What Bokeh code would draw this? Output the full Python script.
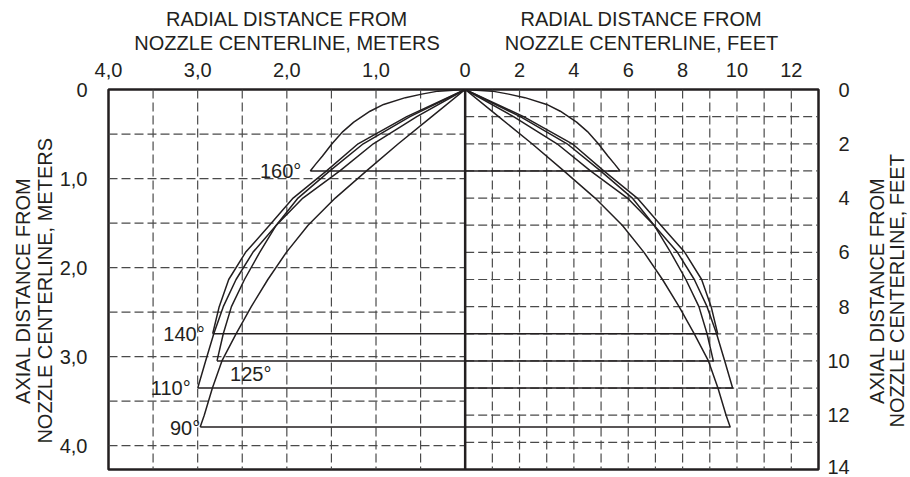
import numpy as np
from bokeh.plotting import figure
from bokeh.layouts import column, row
from bokeh.models import Range1d, LinearAxis, FixedTicker, Label
from bokeh.core.properties import value
from bokeh.embed import file_html
from bokeh.resources import INLINE

FT_PER_M = 3.2808

# ---------------- tick labels ----------------
top_m_ticks = [-4.0, -3.0, -2.0, -1.0]
top_m_labels = ["4,0", "3,0", "2,0", "1,0"]
top_ft_ticks = [0, 2, 4, 6, 8, 10, 12]
top_ft_labels = ["0", "2", "4", "6", "8", "10", "12"]
left_m_ticks = [0.0, 1.0, 2.0, 3.0, 4.0]
left_m_labels = ["0", "1,0", "2,0", "3,0", "4,0"]
right_ft_ticks = [0, 2, 4, 6, 8, 10, 12, 14]
right_ft_labels = ["\u20070", "\u20072", "\u20074", "\u20076", "\u20078", "10", "12", "14"]

# axis titles
top_left_title = ["RADIAL DISTANCE FROM", "NOZZLE CENTERLINE, METERS"]
top_right_title = ["RADIAL DISTANCE FROM", "NOZZLE CENTERLINE, FEET"]
left_title = ["AXIAL DISTANCE FROM", "NOZZLE CENTERLINE, METERS"]
right_title = ["AXIAL DISTANCE FROM", "NOZZLE CENTERLINE, FEET"]

# ---------------- spray profiles (feet): radial distance r, axial distance a ----------------
angle_names = ["160°", "140°", "125°", "110°", "90°"]
r_160 = [0, 1.0, 1.6, 2.2, 3.0, 3.5, 4.1, 4.5, 4.9, 5.25, 5.5, 5.7]
a_160 = [0, 0.06, 0.17, 0.3, 0.55, 0.8, 1.2, 1.55, 2.0, 2.45, 2.75, 3.0]
r_140 = [0, 2.15, 3.94, 5.1, 6.33, 7.2, 8.08, 8.70, 9.05, 9.29]
a_140 = [0, 1, 2, 3, 4, 5, 6, 7, 8, 9]
r_125 = [0, 1.78, 3.38, 4.61, 5.97, 6.95, 7.56, 8.12, 8.6, 8.9, 9.13]
a_125 = [0, 1, 2, 3, 4, 5, 6, 7, 8, 9, 10]
r_110 = [0, 2.03, 3.75, 4.98, 6.15, 6.95, 7.81, 8.43, 8.9, 9.25, 9.55, 9.84]
a_110 = [0, 1, 2, 3, 4, 5, 6, 7, 8, 9, 10, 11]
r_90 = [0, 1.23, 2.46, 3.63, 4.78, 5.78, 6.58, 7.26, 7.87, 8.43, 8.95, 9.3, 9.6, 9.75]
a_90 = [0, 1, 2, 3, 4, 5, 6, 7, 8, 9, 10, 11, 12, 12.43]

profiles = [(r_160, a_160), (r_140, a_140), (r_125, a_125), (r_110, a_110), (r_90, a_90)]
# label placement (style): (x offset px, y offset px, align)
label_style = [(-9, 0, "right"), (-8, 0, "right"), (13, -13, "left"), (-7, 0, "right"), (0, -1, "right")]

INK = "#231f20"
FONT = "Liberation Sans"
FS = "20px"

W, H = 910, 477
TOP_H = 56      # height of the title strip above
LEFT_W = 56     # width of the title strip on the left
RIGHT_W = 50    # width of the title strip on the right
MAIN_W = W - LEFT_W - RIGHT_W
MAIN_H = H - TOP_H

X_MIN, X_MAX = -4.0, 13 / FT_PER_M
Y_MAX = 14 / FT_PER_M


def strip(width, height, x0, y0):
    s = figure(width=width, height=height, min_border=0, title=None,
               x_range=Range1d(x0, x0 + width), y_range=Range1d(-(y0 + height), -y0),
               x_axis_location=None, y_axis_location=None,
               output_backend="svg", toolbar_location=None)
    s.grid.visible = False
    s.outline_line_color = None
    return s


def title_text(s, xs, ys, texts, angle):
    s.text(x=xs, y=[-y for y in ys], text=texts, angle=angle,
           text_font=value(FONT), text_font_size=value(FS), text_color=INK,
           text_align="center", text_baseline="middle")


# ---------------- main chart ----------------
FRAME_W, FRAME_H = 710, 380
p = figure(frame_width=FRAME_W, frame_height=FRAME_H,
           min_border_left=108 - LEFT_W, min_border_right=MAIN_W - (108 - LEFT_W) - FRAME_W,
           min_border_top=89 - TOP_H, min_border_bottom=MAIN_H - (89 - TOP_H) - FRAME_H,
           x_range=Range1d(X_MIN, X_MAX), y_range=Range1d(Y_MAX, 0),
           x_axis_location="above", y_axis_location="left",
           output_backend="svg", toolbar_location=None)
p.grid.visible = False
p.outline_line_color = INK
p.outline_line_width = 2.5

GRID_COL = "#4a4a4a"
GRID_DASH = "9 4"
gx_left = np.arange(-3.5, 0, 0.5)
gy_left = np.arange(0.5, 4.01, 0.5)
gx_right = np.arange(1, 13) / FT_PER_M
gy_right = np.arange(1, 14) / FT_PER_M
gkw = dict(line_color=GRID_COL, line_width=1.2, line_dash=GRID_DASH)
p.segment(x0=gx_left, y0=np.zeros_like(gx_left), x1=gx_left, y1=np.full_like(gx_left, Y_MAX), **gkw)
p.segment(x0=np.full_like(gy_left, X_MIN), y0=gy_left, x1=np.zeros_like(gy_left), y1=gy_left, **gkw)
p.segment(x0=gx_right, y0=np.zeros_like(gx_right), x1=gx_right, y1=np.full_like(gx_right, Y_MAX), **gkw)
p.segment(x0=np.zeros_like(gy_right), y0=gy_right, x1=np.full_like(gy_right, X_MAX), y1=gy_right, **gkw)

# centre line
p.segment(x0=[0], y0=[0], x1=[0], y1=[Y_MAX], line_color=INK, line_width=2.5)

# spray patterns
for name, (r, a), (dx, dy, al) in zip(angle_names, profiles, label_style):
    rm = np.array(r, dtype=float) / FT_PER_M
    am = np.array(a, dtype=float) / FT_PER_M
    xs = np.concatenate([-rm[::-1], rm[1:], [-rm[-1]]])
    ys = np.concatenate([am[::-1], am[1:], [am[-1]]])
    p.line(xs, ys, line_color=INK, line_width=1.5, line_join="round")
    p.add_layout(Label(x=-rm[-1], y=am[-1], text=name, x_offset=dx, y_offset=dy,
                       text_align=al, text_baseline="middle", text_font=FONT,
                       text_font_size=FS, text_color=INK))

# axes
top = p.xaxis[0]
top_ticks = top_m_ticks + [f / FT_PER_M for f in top_ft_ticks]
top.ticker = FixedTicker(ticks=top_ticks)
top.major_label_overrides = dict(zip(top_ticks, top_m_labels + top_ft_labels))

left = p.yaxis[0]
left.ticker = FixedTicker(ticks=left_m_ticks)
left.major_label_overrides = dict(zip(left_m_ticks, left_m_labels))

p.extra_y_ranges = {"ft": Range1d(14, 0)}
right = LinearAxis(y_range_name="ft", ticker=FixedTicker(ticks=right_ft_ticks))
right.major_label_overrides = dict(zip(right_ft_ticks, right_ft_labels))
p.add_layout(right, "right")

for ax, so in ((top, 7), (left, 15), (right, 3)):
    ax.axis_line_color = None
    ax.major_tick_line_color = None
    ax.minor_tick_line_color = None
    ax.major_label_standoff = so
    ax.major_label_text_font = FONT
    ax.major_label_text_font_size = FS
    ax.major_label_text_color = INK

# ---------------- title strips (page pixel coordinates) ----------------
top_strip = strip(W, TOP_H, 0, 0)
title_text(top_strip, [286.5, 286.5], [18.3, 42.5], top_left_title, 0)
title_text(top_strip, [641, 641], [18.3, 42.5], top_right_title, 0)

left_strip = strip(LEFT_W, MAIN_H, 0, TOP_H)
title_text(left_strip, [22.5, 44], [279, 279], left_title, np.pi / 2)

right_strip = strip(RIGHT_W, MAIN_H, W - RIGHT_W, TOP_H)
title_text(right_strip, [876.5, 896.5], [279, 279], right_title, np.pi / 2)

layout = column(top_strip, row(left_strip, p, right_strip))
open("out.html", "w").write(file_html(layout, INLINE))
